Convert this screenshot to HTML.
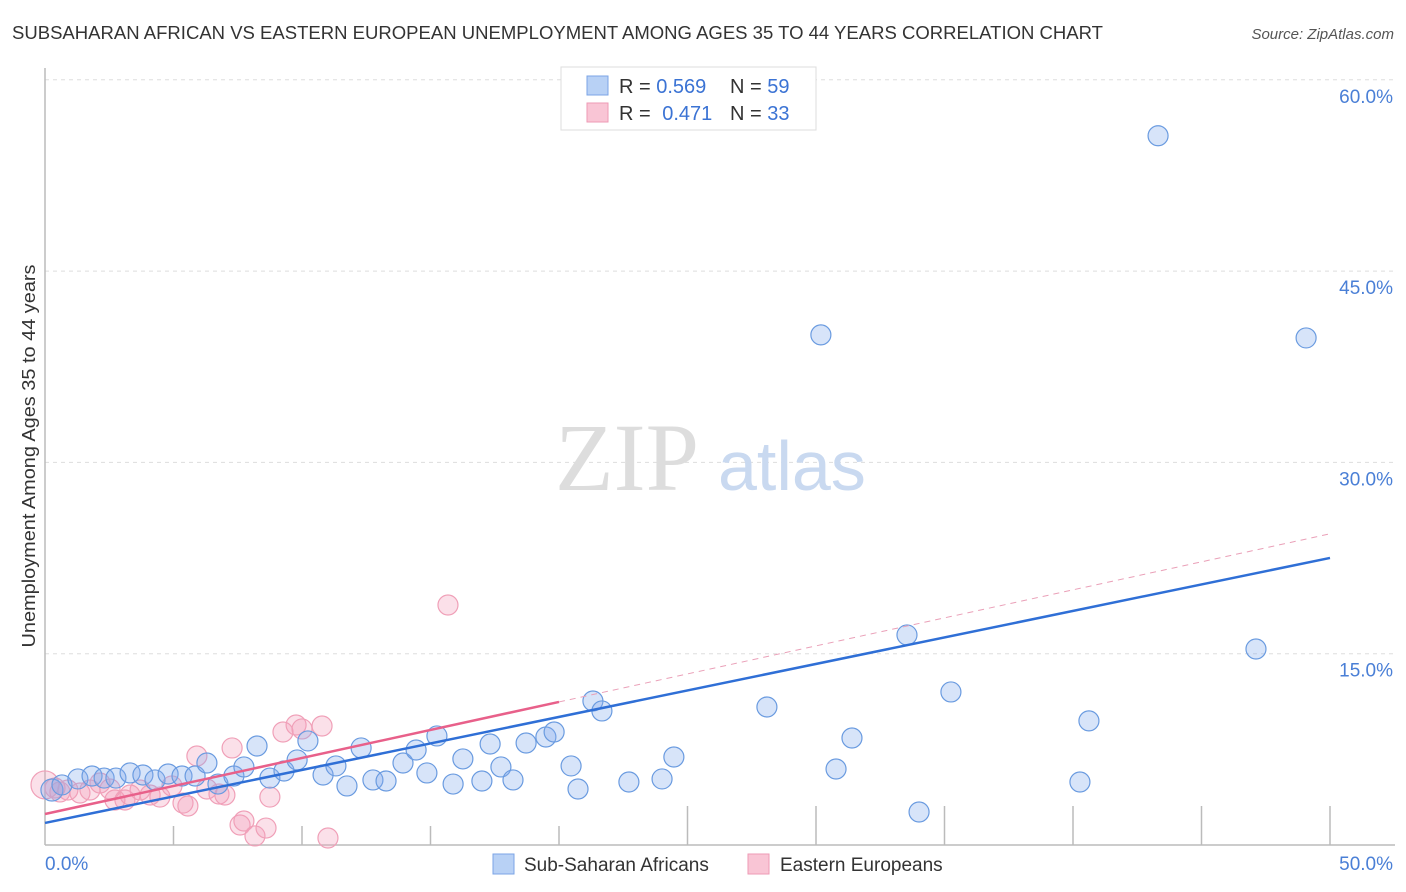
<!DOCTYPE html>
<html><head><meta charset="utf-8"><style>
body{margin:0;background:#fff;font-family:"Liberation Sans",sans-serif;}
svg{display:block}
</style></head><body>
<svg id="c" width="1406" height="892" xmlns="http://www.w3.org/2000/svg">
<text x="12" y="39" font-size="18" fill="#333" textLength="1091" lengthAdjust="spacingAndGlyphs">SUBSAHARAN AFRICAN VS EASTERN EUROPEAN UNEMPLOYMENT AMONG AGES 35 TO 44 YEARS CORRELATION CHART</text>
<text x="1394" y="39" font-size="15" fill="#555" font-style="italic" text-anchor="end">Source: ZipAtlas.com</text>
<g id="grid"></g>
<g id="ticks"></g>
<line x1="45" y1="68" x2="45" y2="845" stroke="#bbb" stroke-width="1.5"/>
<line x1="45" y1="845" x2="1395" y2="845" stroke="#bbb" stroke-width="1.5"/>
<text x="555" y="490" font-size="96" fill="#ddd" font-family="Liberation Serif,serif">ZIP</text>
<text x="718" y="490" font-size="70" fill="#c9d9f0">atlas</text>
<g id="pts"></g>
<g id="lines"></g>
<text x="35" y="456" font-size="18" fill="#333" text-anchor="middle" textLength="383" lengthAdjust="spacingAndGlyphs" transform="rotate(-90 35 456)">Unemployment Among Ages 35 to 44 years</text>
<text x="45" y="870" font-size="19" fill="#4a7fd6">0.0%</text>
<text x="1393" y="870" font-size="19" fill="#4a7fd6" text-anchor="end">50.0%</text>
<g>
<rect x="561" y="67" width="255" height="63" fill="#fff" stroke="#ddd"/>
<rect x="587" y="76" width="21" height="19" fill="#b8d1f5" stroke="#7ba4e6"/>
<rect x="587" y="103" width="21" height="19" fill="#f9c5d5" stroke="#ee9ab5"/>
<text x="619" y="93" font-size="20" fill="#333">R = <tspan fill="#3b73d4">0.569</tspan></text>
<text x="730" y="93" font-size="20" fill="#333">N = <tspan fill="#3b73d4">59</tspan></text>
<text x="619" y="120" font-size="20" fill="#333">R = <tspan fill="#3b73d4" dx="6">0.471</tspan></text>
<text x="730" y="120" font-size="20" fill="#333">N = <tspan fill="#3b73d4">33</tspan></text>
</g>
<g>
<rect x="493" y="854" width="21" height="20" fill="#b8d1f5" stroke="#7ba4e6"/>
<text x="524" y="871" font-size="19" fill="#333">Sub-Saharan Africans</text>
<rect x="748" y="854" width="21" height="20" fill="#f9c5d5" stroke="#ee9ab5"/>
<text x="780" y="871" font-size="19" fill="#333">Eastern Europeans</text>
</g>
</svg>
<script>
const yTicks=[15,30,45,60];
const yTickLabels=["15.0%","30.0%","45.0%","60.0%"];
const xTicks=[5,10,15,20,25,30,35,40,45,50];
const blueX=[0.27,0.66,1.28,1.83,2.30,2.76,3.31,3.81,4.28,4.79,5.33,5.84,6.30,6.73,7.35,7.74,8.25,8.75,9.30,9.81,10.23,10.82,11.32,11.75,12.30,12.76,13.27,13.93,14.44,14.86,15.25,15.88,16.26,17.00,17.32,17.74,18.21,18.72,19.49,19.81,20.47,20.74,21.32,21.67,22.72,24.01,24.47,28.09,30.19,30.78,31.40,33.54,34.01,35.25,40.27,40.62,43.31,47.12,49.07];
const blueY=[4.31,4.71,5.18,5.41,5.25,5.25,5.65,5.49,5.10,5.57,5.41,5.41,6.43,4.78,5.41,6.12,7.76,5.25,5.80,6.67,8.16,5.49,6.20,4.63,7.61,5.10,5.02,6.43,7.45,5.65,8.55,4.78,6.75,5.02,7.92,6.12,5.10,8.00,8.47,8.86,6.20,4.39,11.29,10.51,4.94,5.18,6.90,10.82,40.00,5.96,8.39,16.47,2.59,12.00,4.94,9.73,55.61,15.37,39.76];
const pinkX=[0,0.39,0.89,1.36,1.75,2.14,2.53,2.72,3.11,3.70,4.09,4.47,4.94,5.37,5.56,5.91,6.30,6.77,7.00,7.28,7.59,7.74,8.17,8.60,8.75,9.26,9.77,10.00,10.78,11.01,15.68,0.58,3.31];
const pinkY=[4.71,4.47,4.31,4.08,4.31,4.86,4.39,3.53,3.53,4.31,3.92,3.76,4.63,3.29,3.06,6.98,4.39,4.00,3.92,7.61,1.57,1.88,0.71,1.33,3.76,8.86,9.41,9.10,9.33,0.55,18.82,4.16,3.92];
const blueTrend=[1.73,22.51];
const pinkTrend=[2.43,24.4];
const pinkSolidEnd=20;
const NS="http://www.w3.org/2000/svg";
const X=v=>45+v/50*1285, Y=v=>845-v*191.3/15;
function mk(t,a,p){const e=document.createElementNS(NS,t);for(const k in a)e.setAttribute(k,a[k]);p.appendChild(e);return e;}
const grid=document.getElementById('grid');
yTicks.forEach((t,i)=>{
 const l=mk('line',{x1:45,x2:1395,y1:Y(t),y2:Y(t),stroke:'#ddd','stroke-dasharray':'4,4'},grid);
 
 
 const tx=mk('text',{x:1393,y:Y(t)+23,'font-size':19,fill:'#4a7fd6','text-anchor':'end'},grid);
 tx.textContent=yTickLabels[i];
 
 
});
const tk=document.getElementById('ticks');
xTicks.forEach((t,i)=>{
 const l=mk('line',{x1:X(t),x2:X(t),y1:i<4?826:806,y2:845,stroke:'#bbb','stroke-width':1.5},tk);
 
 
});
const pts=document.getElementById('pts');
pinkX.forEach((v,i)=>{
 const c=mk('circle',{cx:X(v),cy:Y(pinkY[i]),r:i==0?14:10,fill:'rgba(244,160,188,0.32)',stroke:'#f0a0b8','stroke-width':1.2},pts);
 
 
});
blueX.forEach((v,i)=>{
 const c=mk('circle',{cx:X(v),cy:Y(blueY[i]),r:i==0?11:10,fill:'rgba(130,170,235,0.32)',stroke:'#6a9be0','stroke-width':1.2},pts);
 
 
});
const ln=document.getElementById('lines');
let a=mk('line',{x1:X(0),y1:Y(blueTrend[0]),x2:X(50),y2:Y(blueTrend[1]),stroke:'#2f6fd6','stroke-width':2.5},ln);


const pe=pinkTrend[0]+(pinkTrend[1]-pinkTrend[0])*pinkSolidEnd/50;
let b=mk('line',{x1:X(0),y1:Y(pinkTrend[0]),x2:X(pinkSolidEnd),y2:Y(pe),stroke:'#e8608a','stroke-width':2.5},ln);


let d=mk('line',{x1:X(pinkSolidEnd),y1:Y(pe),x2:X(50),y2:Y(pinkTrend[1]),stroke:'#eaa0b8','stroke-width':1,'stroke-dasharray':'6,5'},ln);


</script>
</body></html>
